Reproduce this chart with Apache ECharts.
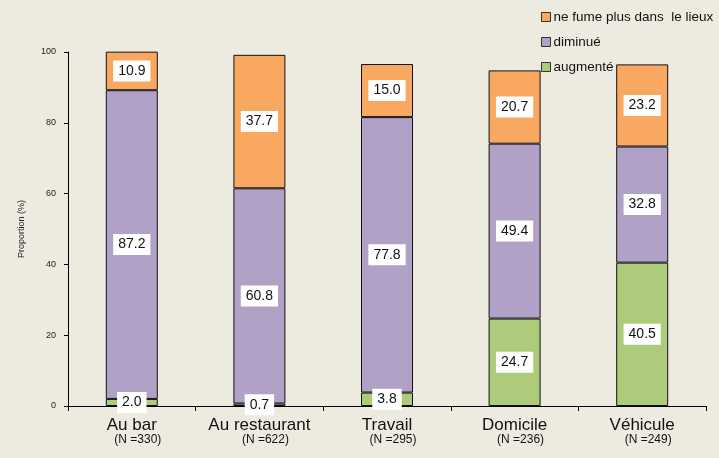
<!DOCTYPE html>
<html>
<head>
<meta charset="utf-8">
<script src="https://cdn.jsdelivr.net/npm/echarts@6/dist/echarts.min.js"></script>
<style>
  html, body { margin: 0; padding: 0; background: #edeae0; }
  #main { width: 719px; height: 458px; }
</style>
</head>
<body>
<div id="main"></div>
<script>
// donnees
var lieux = ['Au bar', 'Au restaurant', 'Travail', 'Domicile', 'Véhicule'];
var effectifs = ['330', '622', '295', '236', '249'];
var augmente = [2.0, 0.7, 3.8, 24.7, 40.5];
var diminue = [87.2, 60.8, 77.8, 49.4, 32.8];
var neFumePlus = [10.9, 37.7, 15.0, 20.7, 23.2];
var yTicks = [0, 20, 40, 60, 80, 100];

var myChart = echarts.init(document.getElementById('main'));

function serie(name, data, color) {
    return {
        name: name,
        type: 'bar',
        stack: 'total',
        barWidth: 52,
        data: data,
        itemStyle: { color: color, borderColor: '#111', borderWidth: 1 },
        label: {
            show: true,
            position: 'inside',
            formatter: function (p) { return p.value.toFixed(1) },
            color: '#111',
            fontFamily: 'Liberation Sans, Arial',
            fontSize: 14,
            backgroundColor: '#fff',
            padding: [4, 5, 3, 5]
        }
    }
}

var option = {
    backgroundColor: '#edeae0',
    animation: false,
    grid: { left: 68, right: 13, top: 52, bottom: 52 },
    legend: {
        orient: 'vertical',
        left: 536,
        top: 5,
        itemGap: 11,
        itemWidth: 9,
        itemHeight: 9,
        icon: 'rect',
        data: ['ne fume plus dans  le lieux', 'diminué', 'augmenté'],
        textStyle: { fontSize: 13.5, color: '#111', fontFamily: 'Liberation Sans, Arial', padding: [0, 0, 0, -2] },
        itemStyle: { borderColor: '#333', borderWidth: 1 }
    },
    xAxis: {
        type: 'category',
        data: lieux,
        axisLine: { lineStyle: { color: '#000', width: 1 } },
        axisTick: { show: true, alignWithLabel: false, length: 5, lineStyle: { color: '#000' } },
        axisLabel: {
            interval: 0,
            margin: 12,
            formatter: function (v, i) { return '{a|' + v + '}\n{b|(N =' + effectifs[i] + ')}' },
            rich: {
                a: { fontSize: 17, color: '#111', fontFamily: 'Liberation Sans Narrow, Liberation Sans, Arial', lineHeight: 15 },
                b: { fontSize: 12, color: '#111', fontFamily: 'Liberation Sans Narrow, Liberation Sans, Arial', lineHeight: 13, padding: [0, 0, 0, 12] }
            }
        }
    },
    yAxis: {
        type: 'value',
        min: yTicks[0],
        max: yTicks[yTicks.length - 1],
        interval: 20,
        name: 'Proportion (%)',
        nameLocation: 'middle',
        nameGap: 42,
        nameTextStyle: { fontSize: 9, color: '#222', fontFamily: 'Liberation Sans, Arial' },
        axisLine: { show: true, lineStyle: { color: '#000' } },
        axisTick: { show: true, length: 4, lineStyle: { color: '#000' } },
        splitLine: { show: false },
        axisLabel: { fontSize: 9, color: '#222', margin: 12, fontFamily: 'Liberation Sans, Arial' }
    },
    series: [
        serie('augmenté', augmente, '#aecb7b'),
        serie('diminué', diminue, '#b2a1c7'),
        serie('ne fume plus dans  le lieux', neFumePlus, '#f9a862')
    ]
};

myChart.setOption(option);
</script>
</body>
</html>
